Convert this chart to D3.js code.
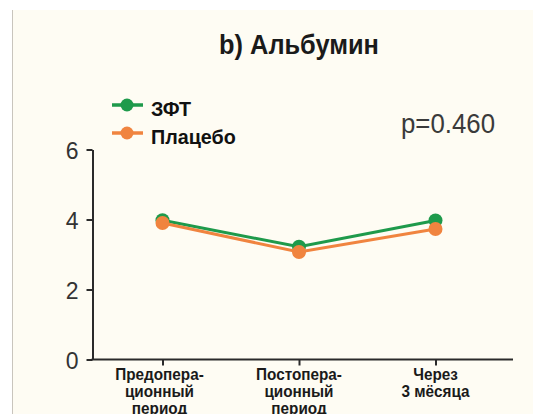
<!DOCTYPE html>
<html>
<head>
<meta charset="utf-8">
<script src="https://cdn.jsdelivr.net/npm/d3@7"></script>
<style>
  html, body { margin: 0; padding: 0; background: #ffffff; }
  svg { display: block; font-family: "Liberation Sans", Arial, sans-serif; }
</style>
</head>
<body>
<svg id="chart" width="533" height="414"></svg>
<script>
// Time points (each label split into its printed lines)
const categories = ["pre", "post", "3m"];
const categoryLines = [
  ["Предопера-", "ционный", "период"],
  ["Постопера-", "ционный", "период"],
  ["Через", "3 мёсяца"]
];

// Mean albumin per group at each time point
const seriesNames = ["ЗФТ", "Плацебо"];
const zftValues = [3.98, 3.22, 3.97];
const placeboValues = [3.90, 3.07, 3.73];

const yTicks = [0, 2, 4, 6];
const titleText = "b) Альбумин";
const pValueText = "p=0.460";

const colors = { "ЗФТ": "#1e9a4b", "Плацебо": "#f0843f" };

const svg = d3.select("#chart");

// Cream panel with a thin left rule
svg.append("rect")
  .attr("x", 12).attr("y", 10)
  .attr("width", 521).attr("height", 404)
  .attr("fill", "#fefcf3");
svg.append("line")
  .attr("x1", 12.5).attr("x2", 12.5)
  .attr("y1", 10).attr("y2", 414)
  .attr("stroke", "#c9c5bd").attr("stroke-width", 1);

// Scales
const x = d3.scalePoint().domain(categories).range([162.5, 435.5]);
const y = d3.scaleLinear().domain([0, 6]).range([359.5, 149.5]);
const axisLeftX = 92.5, axisRightX = 513;

// Title
svg.append("text")
  .attr("x", 299).attr("y", 54)
  .attr("text-anchor", "middle")
  .attr("font-size", 27).attr("font-weight", "bold")
  .attr("fill", "#1a1a1a")
  .attr("transform", "translate(299,0) scale(0.94,1) translate(-299,0)")
  .text(titleText);

// p-value
svg.append("text")
  .attr("x", 448).attr("y", 133)
  .attr("text-anchor", "middle")
  .attr("font-size", 27)
  .attr("fill", "#3a3a3a")
  .attr("textLength", 94).attr("lengthAdjust", "spacingAndGlyphs")
  .text(pValueText);

// Y axis
const yAxis = svg.append("g")
  .attr("transform", `translate(${axisLeftX},0)`)
  .call(d3.axisLeft(y).tickValues(yTicks).tickSize(6).tickSizeOuter(0).tickPadding(8).tickFormat(d3.format("d")));
yAxis.select(".domain").attr("stroke", "#2a2a2a").attr("stroke-width", 2);
yAxis.selectAll(".tick line").attr("stroke", "#2a2a2a").attr("stroke-width", 2);
yAxis.selectAll(".tick text")
  .attr("font-size", 23).attr("fill", "#333")
  .attr("font-family", "Liberation Sans, Arial, sans-serif")
  .attr("dy", "0.38em");

// X axis
const xAxis = svg.append("g")
  .attr("transform", `translate(0,${y(0)})`)
  .call(d3.axisBottom(x).tickSize(6).tickSizeOuter(0).tickFormat(""));
xAxis.select(".domain").remove();
xAxis.append("line")
  .attr("x1", axisLeftX - 1).attr("x2", axisRightX)
  .attr("stroke", "#2a2a2a").attr("stroke-width", 2);
xAxis.selectAll(".tick line").attr("stroke", "#2a2a2a").attr("stroke-width", 2);

// Multi-line category labels, slightly condensed
categories.forEach((c, i) => {
  const cx = x(c) - (i === 0 ? 3 : 0);
  const t = svg.append("text")
    .attr("text-anchor", "middle")
    .attr("font-size", 17).attr("font-weight", "bold")
    .attr("fill", "#1a1a1a")
    .attr("transform", `translate(${cx},0) scale(0.9,1) translate(${-cx},0)`);
  categoryLines[i].forEach((line, j) => {
    t.append("tspan")
      .attr("x", cx).attr("y", 380 + j * 16.8)
      .text(line);
  });
});

// Series lines and points
const series = [
  { name: seriesNames[0], values: zftValues },
  { name: seriesNames[1], values: placeboValues }
];
const line = d3.line().x((d, i) => x(categories[i])).y(d => y(d));

series.forEach(s => {
  const g = svg.append("g");
  g.append("path")
    .attr("d", line(s.values))
    .attr("fill", "none")
    .attr("stroke", colors[s.name])
    .attr("stroke-width", 3);
  g.selectAll("circle")
    .data(s.values)
    .join("circle")
    .attr("cx", (d, i) => x(categories[i]))
    .attr("cy", d => y(d))
    .attr("r", 7)
    .attr("fill", colors[s.name]);
});

// Legend
const legend = svg.append("g");
seriesNames.forEach((name, i) => {
  const ly = 105 + i * 28;
  legend.append("line")
    .attr("x1", 112).attr("x2", 143)
    .attr("y1", ly).attr("y2", ly)
    .attr("stroke", colors[name]).attr("stroke-width", 3.5);
  legend.append("circle")
    .attr("cx", 127).attr("cy", ly).attr("r", 6.5)
    .attr("fill", colors[name]);
  legend.append("text")
    .attr("x", 151).attr("y", ly + 11.5)
    .attr("font-size", 21).attr("font-weight", "bold")
    .attr("fill", "#111")
    .attr("transform", "translate(151,0) scale(0.94,1) translate(-151,0)")
    .text(name);
});
</script>
</body>
</html>
